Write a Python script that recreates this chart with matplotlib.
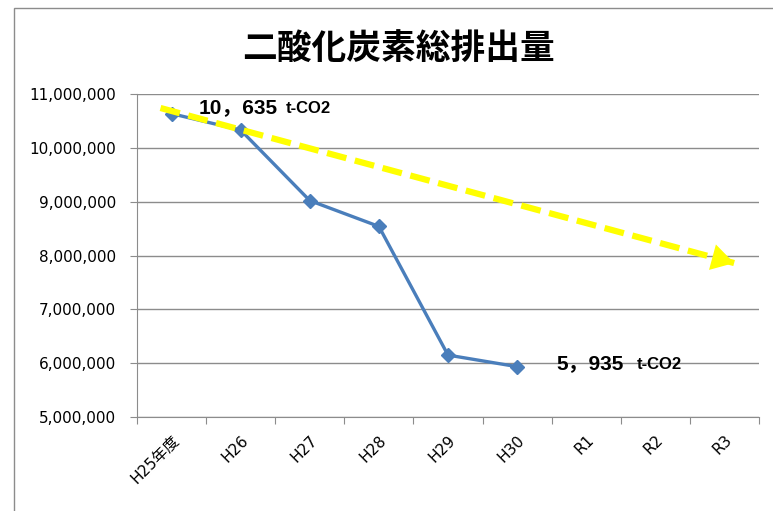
import matplotlib
matplotlib.use("Agg")
import matplotlib.pyplot as plt
from matplotlib.ticker import FuncFormatter
from matplotlib.patches import Rectangle

plt.rcParams['font.family'] = ['DejaVu Sans', 'Noto Sans CJK JP']

categories = ["H25年度", "H26", "H27", "H28", "H29", "H30", "R1", "R2", "R3"]
emissions = [10635000, 10330000, 9020000, 8540000, 6150000, 5935000]
trend_x = [-0.16, 8.14]
trend_y = [10740000, 7860000]
yticks = [5000000, 6000000, 7000000, 8000000, 9000000, 10000000, 11000000]

fig = plt.figure(figsize=(7.73, 5.11), dpi=100)
ax = fig.add_axes([137/773, 1-417/511, (759-137)/773, (417-94)/511])

# figure border
fig.patches.append(Rectangle((14/773, -0.1), 1.2, 1 - 8/511 + 0.1, transform=fig.transFigure,
                             fill=False, edgecolor='#8c8c8c', linewidth=1.0))

x = list(range(len(emissions)))
ax.plot(x, emissions, color='#4A7EBB', linewidth=2.4, marker='D', markersize=7,
        markerfacecolor='#4A7EBB', markeredgecolor='#4A7EBB', zorder=3)

# trend arrow
line, = ax.plot(trend_x, trend_y, color='#FFFF00', linewidth=4.5, zorder=4,
                solid_capstyle='butt', dash_capstyle='butt')
line.set_dashes((3.2, 1.4))
dx = trend_x[1] - trend_x[0]
dy = trend_y[1] - trend_y[0]
ax.annotate('', xy=(trend_x[1], trend_y[1]),
            xytext=(trend_x[1] - 0.06 * dx, trend_y[1] - 0.06 * dy),
            arrowprops=dict(arrowstyle='-|>,head_length=0.85,head_width=0.5', mutation_scale=19,
                            color='#FFFF00', lw=0, shrinkA=0, shrinkB=0), zorder=5)

ax.set_xlim(-0.5, len(categories) - 0.5)
ax.set_ylim(5000000, 11000000)
ax.set_yticks(yticks)
ax.yaxis.set_major_formatter(FuncFormatter(lambda v, p: f"{int(v):,}"))
ax.set_xticks([i - 0.5 for i in range(len(categories) + 1)], minor=False)
ax.set_xticklabels([])
ax.set_xticks(range(len(categories)), minor=True)
ax.set_xticklabels(categories, minor=True, rotation=45, ha='right', va='top',
                   rotation_mode='anchor', fontsize=11)
ax.tick_params(axis='x', which='minor', length=0, pad=11)
ax.tick_params(axis='x', which='major', length=5, color='#8c8c8c')
ax.tick_params(axis='y', length=5, color='#8c8c8c', pad=10, labelsize=11)

ax.grid(axis='y', color='#8c8c8c', linewidth=1.0)
ax.set_axisbelow(True)
for s in ['top', 'right']:
    ax.spines[s].set_visible(False)
ax.spines['left'].set_color('#8c8c8c')
ax.spines['bottom'].set_color('#8c8c8c')

fig.text(399/773, 1 - 49/511, "二酸化炭素総排出量", ha='center', va='center',
         fontsize=25, fontweight='bold', family=['Noto Sans CJK JP'])

# labels
lab_font = ['Liberation Sans', 'Noto Sans CJK JP']
ax.annotate("10，635", xy=(0, emissions[0]), xytext=(19.5, 4.3), textcoords='offset points',
            ha='left', va='center', fontsize=15, fontweight='bold', family=lab_font)
ax.annotate("t-CO2", xy=(0, emissions[0]), xytext=(82, 3.6), textcoords='offset points',
            ha='left', va='center', fontsize=12, fontweight='bold', family=lab_font)
ax.annotate("5，935", xy=(5, emissions[5]), xytext=(28, 2), textcoords='offset points',
            ha='left', va='center', fontsize=15, fontweight='bold', family=lab_font)
ax.annotate("t-CO2", xy=(5, emissions[5]), xytext=(86, 1.5), textcoords='offset points',
            ha='left', va='center', fontsize=12, fontweight='bold', family=lab_font)

fig.savefig("out.png", dpi=100)
